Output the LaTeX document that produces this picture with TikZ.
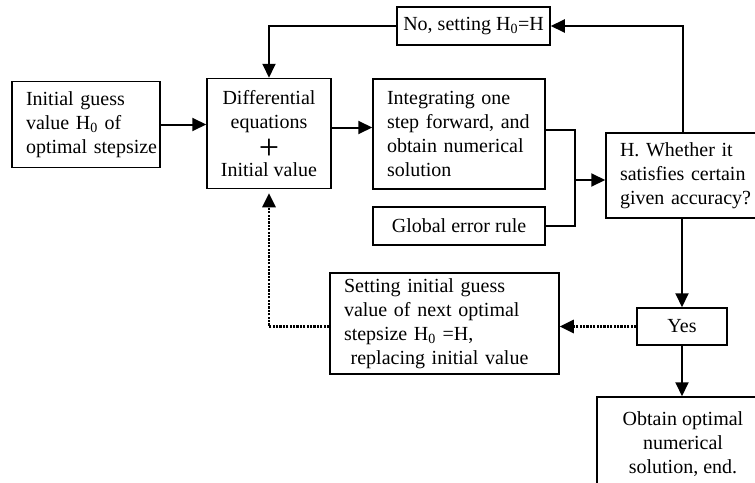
\documentclass[tikz,border=0pt]{standalone}
\usepackage{fontspec}
\setmainfont{Liberation Serif}
\usetikzlibrary{arrows.meta}

\begin{document}
\begin{tikzpicture}[x=1pt, y=-1pt,
  font=\fontsize{20}{24}\selectfont,
  box/.style={draw=black, line width=1.5pt, inner ysep=0pt},
  lbox/.style={box, align=left, inner xsep=0pt, execute at begin node={\leftskip=14pt\hyphenpenalty=10000}},
  cbox/.style={box, align=center, inner xsep=4pt},
  arr/.style={line width=2pt, -{Triangle[length=14pt, width=13pt]}},
  dotarr/.style={line width=2.8pt, dash pattern=on 2.2pt off 1.2pt, -{Triangle[length=14pt, width=13pt]}}]
\useasboundingbox (0,0) rectangle (755,482);
\clip (0,0) rectangle (755,482);
% boxes
\node[lbox, text width=148pt, minimum height=86pt] (guess) at (86, 124.5) {Initial guess\\value H\textsubscript{0} of\\optimal stepsize};
\node[cbox, minimum width=124pt, minimum height=110pt] (ode) at (269, 133.5) {Differential\\equations\\{\fontsize{36}{24}\selectfont\raisebox{-7pt}{+}}\\Initial value};
\node[lbox, text width=172pt, minimum height=110pt] (integ) at (459, 134) {Integrating one\\step forward, and\\obtain numerical\\solution};
\node[cbox, minimum width=172pt, minimum height=38pt] (rule) at (459, 226) {Global error rule};
\node[lbox, text width=154pt, minimum height=85pt] (check) at (683, 175.5) {H. Whether it\\satisfies certain\\given accuracy?};
\node[cbox, minimum width=153pt, minimum height=38pt] (no) at (473.5, 26) {No, setting H\textsubscript{0}=H};
\node[cbox, minimum width=90pt, minimum height=37pt] (yes) at (682, 326.5) {Yes};
\node[lbox, text width=229pt, minimum height=101pt] (reset) at (444.5, 323.5) {Setting initial guess\\value of next optimal\\stepsize H\textsubscript{0} =H,\\\ replacing initial value};
\node[cbox, minimum width=172pt, minimum height=94pt] (done) at (683, 444) {Obtain optimal\\numerical\\solution, end.};
\coordinate (join) at (575, 180);
% connectors
\draw[arr] (guess.east) -- (guess.east -| ode.west);
\draw[arr] ([yshift=6pt]ode.east) -- ([yshift=6pt]ode.east -| integ.west);
\draw[line width=2pt] ([yshift=4pt]integ.east) -| (join) |- (rule.east);
\draw[arr] (join) -- (join -| check.west);
\draw[arr] (check.north) |- (no.east);
\draw[arr] (no.west) -| (ode.north);
\draw[arr] (check.south -| yes.north) -- (yes.north);
\draw[arr] (yes.south) -- (done.north -| yes.south);
\draw[dotarr] (yes.west) -- (yes.west -| reset.east);
\draw[dotarr, shorten >=4pt] (yes.west -| reset.west) -| (ode.south);
\end{tikzpicture}
\end{document}
